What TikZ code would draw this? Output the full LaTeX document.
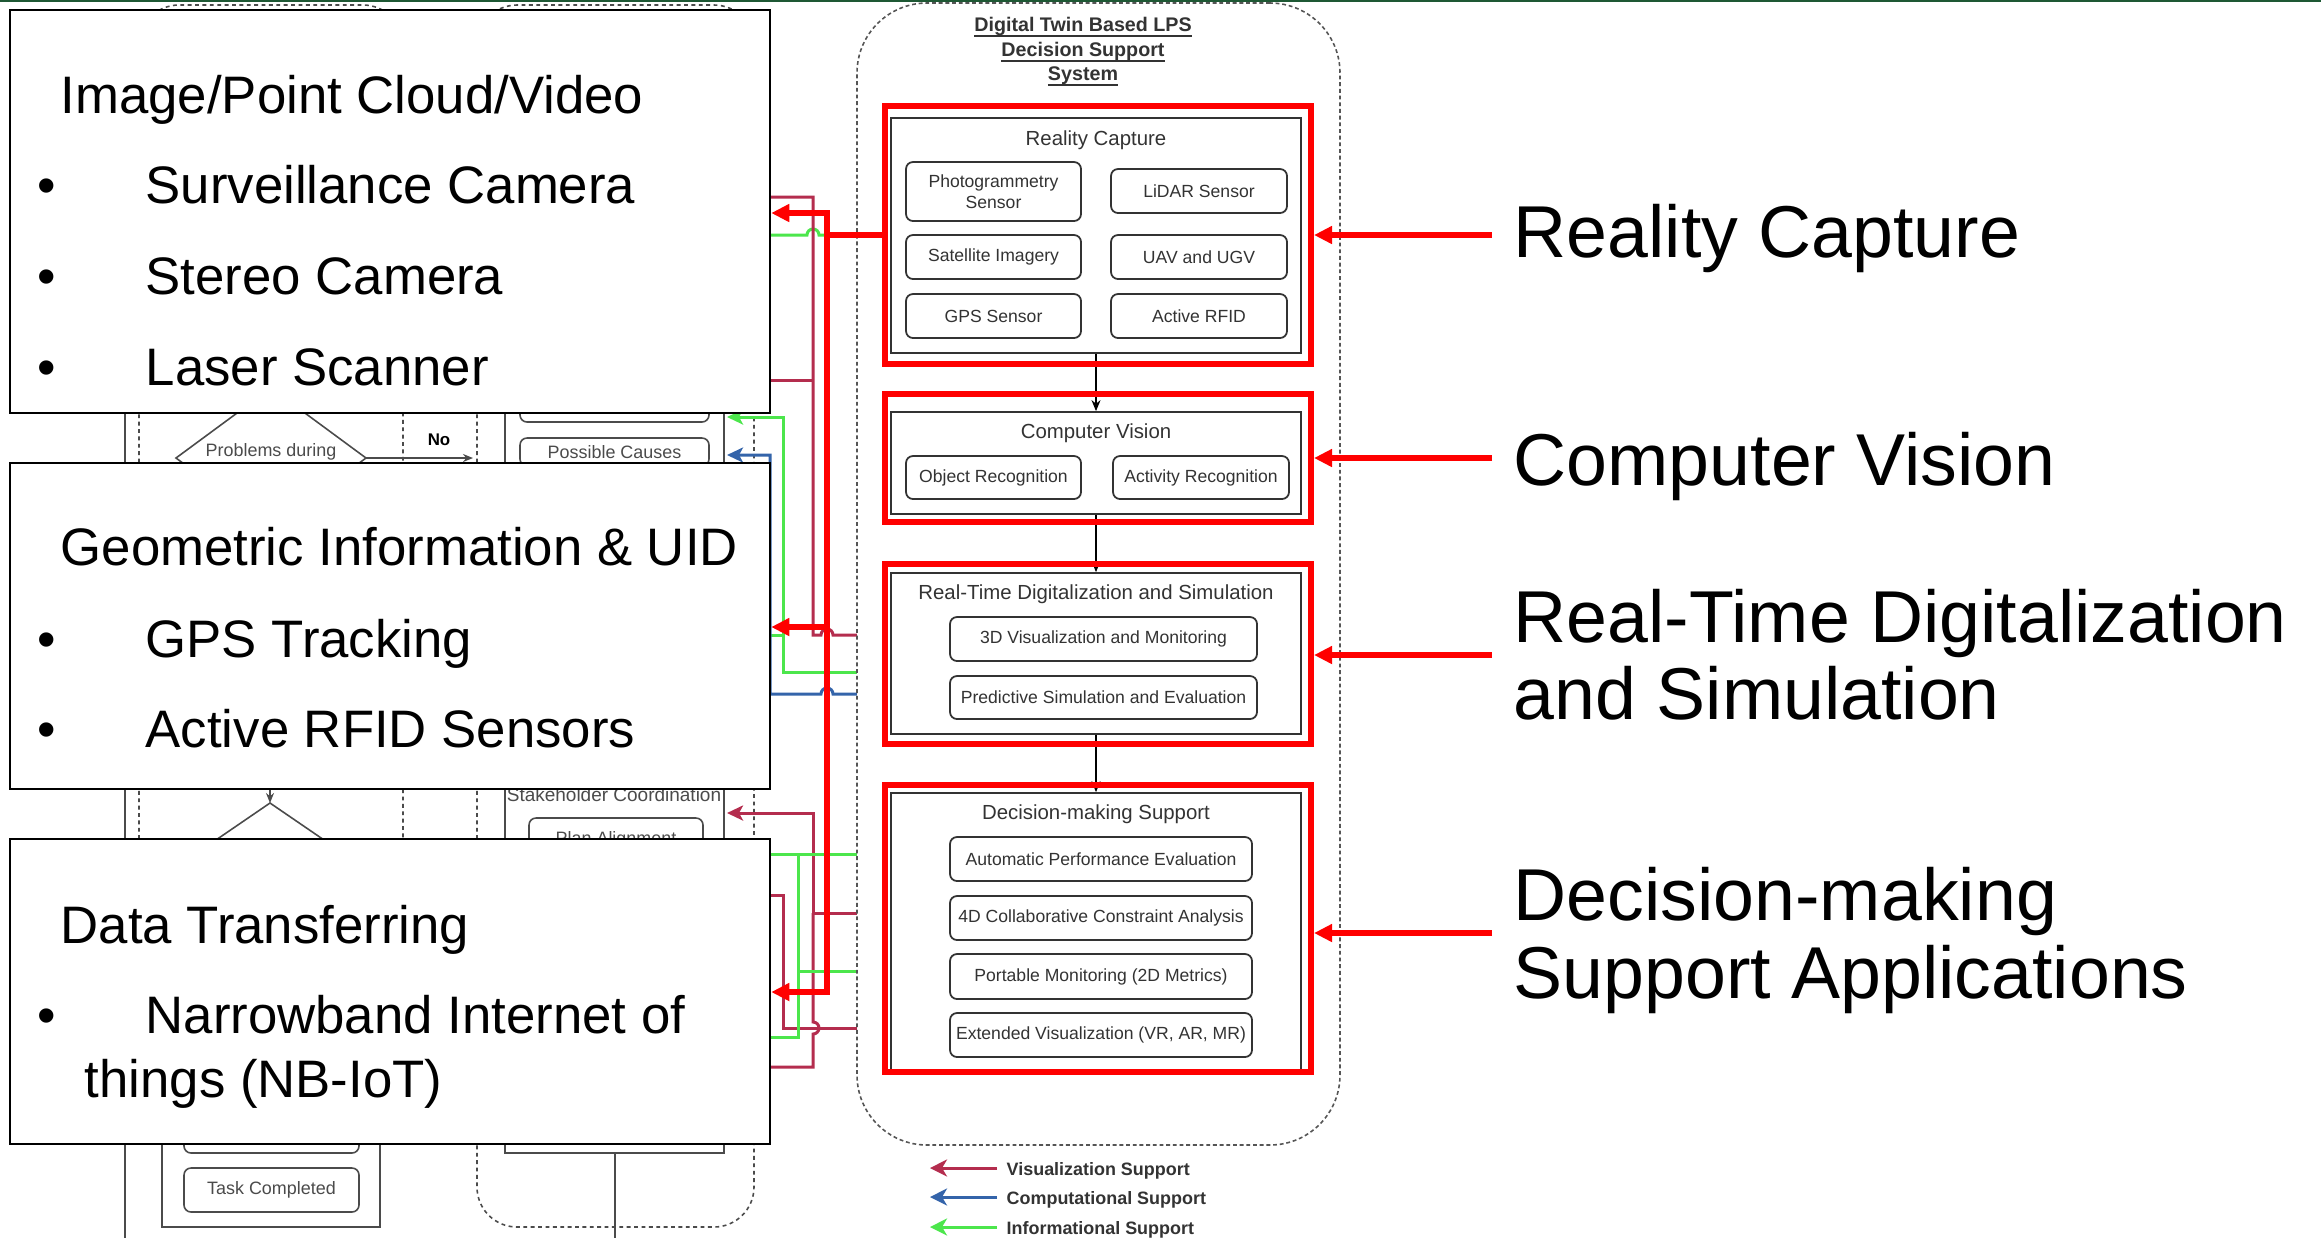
\documentclass[tikz,border=0pt]{standalone}
\usepackage{fontspec}
\setmainfont{Liberation Sans}
\usetikzlibrary{arrows.meta,fit,calc}
\pgfdeclarelayer{flowlayer}
\pgfdeclarelayer{linklayer}
\pgfsetlayers{flowlayer,linklayer,main}

\definecolor{hl}{RGB}{255,0,0}
\definecolor{vis}{RGB}{180,45,78}
\definecolor{comp}{RGB}{52,100,170}
\definecolor{info}{RGB}{76,230,76}
\definecolor{edge}{RGB}{51,51,51}
\definecolor{sysgray}{RGB}{85,85,85}
\definecolor{bggray}{RGB}{75,75,75}
\definecolor{rulegreen}{RGB}{30,88,52}

\newcommand{\titleline}[1]{\underline{\smash{#1}}}
% rounded item box spanning two corners, with its label centred inside
\newcommand{\itemat}[4]{%
  \node[itembox, fit={#2 #3}] (#1) {};
  \node[itemtext] (#1-t) at (#1.center) {#4};}
\newcommand{\bgitemat}[4]{%
  \node[bgbox, fit={#2 #3}] (#1) {};
  \node[bgtext] (#1-t) at (#1.center) {#4};}

\tikzset{
  panel/.style={draw=black, line width=0.7pt, fill=white, inner sep=0pt},
  paneltext/.style={font=\fontsize{15}{18}\selectfont, inner sep=0pt, anchor=base west},
  biglabel/.style={font=\fontsize{20.9}{22}\selectfont, inner sep=0pt, anchor=base west},
  hlbox/.style={draw=hl, line width=0.06cm, inner sep=0pt},
  hlline/.style={draw=hl, line width=0.06cm},
  hlarrow/.style={draw=hl, line width=0.06cm, -{Triangle[length=0.18cm,width=0.17cm]}},
  groupbox/.style={draw=edge, line width=0.5pt, fill=white, inner sep=0pt},
  grouptitle/.style={font=\fontsize{5.8}{7}\selectfont, text=edge, inner sep=0pt},
  itembox/.style={draw=edge, line width=0.5pt, rounded corners=0.07cm, fill=white, inner sep=0pt},
  itemtext/.style={align=center, font=\fontsize{5}{5.9}\selectfont, text=edge, inner sep=0pt},
  sysbox/.style={draw=sysgray, line width=0.45pt, dash pattern=on 1.1pt off 0.8pt,
    rounded corners=0.7cm, fill=white, inner sep=0pt},
  systitle/.style={font=\fontsize{5.6}{7}\selectfont\bfseries, text=edge, inner sep=0pt, anchor=base},
  flowarrow/.style={draw=black, line width=0.35pt, -{Stealth[length=0.11cm,width=0.09cm]}},
  link/.style={line width=0.85pt},
  linktip/.style={-{Stealth[length=0.16cm,width=0.15cm,inset=0.04cm]}},
  visline/.style={link, draw=vis},
  compline/.style={link, draw=comp},
  infoline/.style={link, draw=info},
  legendarrow/.style={line width=0.03cm, -{Stealth[length=0.17cm,width=0.17cm,inset=0.05cm]}},
  legendtext/.style={font=\fontsize{5.1}{6}\selectfont\bfseries, text=edge, inner sep=0pt, anchor=base west},
  bgline/.style={draw=bggray, line width=0.45pt},
  bgdash/.style={bgline, dash pattern=on 1.1pt off 1pt},
  bgbox/.style={bgline, rounded corners=0.07cm, fill=white, inner sep=0pt},
  bgtext/.style={font=\fontsize{5.1}{6.2}\selectfont, text=bggray, inner sep=0pt, align=center},
}

\begin{document}
\begin{tikzpicture}[x=0.01cm, y=-0.01cm]
\useasboundingbox (0,0) rectangle (2321,1238);

% ---------------- swim-lane flowchart in the background ----------------
\begin{pgfonlayer}{flowlayer}
  \fill[white] (0,0) rectangle (2321,1238);
  \draw[bgdash, rounded corners=0.4cm] (139,5) rectangle (403,1135);
  \draw[bgdash, rounded corners=0.4cm] (477,5) rectangle (754,1227);
  \draw[bgline] (125,15) -- (125,1238);
  \draw[bgline] (162,1000) rectangle (380,1227);
  \draw[bgline] (505,30) rectangle (724,1153);
  \draw[bgline] (615,1153) -- (615,1238);
  \bgitemat{bgprev}{(184,1080)}{(359,1153)}{}
  \bgitemat{bgdone}{(184,1168)}{(359,1212)}{Task Completed}
  \bgitemat{bgabove}{(520,370)}{(709,422)}{}
  \bgitemat{bgcause}{(520,438)}{(709,466)}{Possible Causes}
  \node[bgtext, font=\fontsize{5.4}{6.2}\selectfont] (bgstake) at (614,795) {Stakeholder Coordination};
  \bgitemat{bgplan}{(529,818)}{(703,862)}{Plan Alignment}
  % decision diamonds
  \coordinate (d1n) at (271,388); \coordinate (d1e) at (366,458);
  \coordinate (d1s) at (271,528); \coordinate (d1w) at (176,458);
  \draw[bgline, fill=white] (d1n) -- (d1e) -- (d1s) -- (d1w) -- cycle;
  \node[bgtext] (bgprob) at (271,461) {Problems during\\Execution};
  \coordinate (noend) at (473,458);
  \draw[bgline, -{Stealth[length=0.1cm,width=0.08cm]}] (d1e) -- (noend);
  \node[font=\fontsize{4.8}{6}\selectfont\bfseries, text=black, inner sep=0pt] (bgno) at (439,440) {No};
  \coordinate (d2n) at (270,803); \coordinate (d2e) at (365,868);
  \coordinate (d2s) at (270,933); \coordinate (d2w) at (175,868);
  \draw[bgline, fill=white] (d2n) -- (d2e) -- (d2s) -- (d2w) -- cycle;
  \coordinate (d2in) at (270,770);
  \draw[bgline, -{Stealth[length=0.1cm,width=0.08cm]}] (d2in) -- (d2n);
\end{pgfonlayer}

\draw[rulegreen, line width=0.6pt] (0,1) -- (2321,1);

% ---------------- left information panels ----------------
\node[panel, fit={(10,10)(770,413)}] (pimg) {};
\node[paneltext] (timg) at (60,113) {Image/Point Cloud/Video};
\node[paneltext, anchor=base] (bimg1) at (47,203) {\textbullet};
\node[paneltext] (timg1) at (145,203) {Surveillance Camera};
\node[paneltext, anchor=base] (bimg2) at (47,294) {\textbullet};
\node[paneltext] (timg2) at (145,294) {Stereo Camera};
\node[paneltext, anchor=base] (bimg3) at (47,385) {\textbullet};
\node[paneltext] (timg3) at (145,385) {Laser Scanner};

\node[panel, fit={(10,463)(770,789)}] (pgeo) {};
\node[paneltext] (tgeo) at (60,565) {Geometric Information \& UID};
\node[paneltext, anchor=base] (bgeo1) at (47,657) {\textbullet};
\node[paneltext] (tgeo1) at (145,657) {GPS Tracking};
\node[paneltext, anchor=base] (bgeo2) at (47,747) {\textbullet};
\node[paneltext] (tgeo2) at (145,747) {Active RFID Sensors};

\node[panel, fit={(10,839)(770,1144)}] (pdat) {};
\node[paneltext] (tdat) at (60,943) {Data Transferring};
\node[paneltext, anchor=base] (bdat1) at (47,1033) {\textbullet};
\node[paneltext] (tdat1) at (145,1033) {Narrowband Internet of};
\node[paneltext] (tdat2) at (84,1097) {things (NB-IoT)};

% ---------------- support connectors ----------------
\coordinate (gA) at (860,235);
\coordinate (vA) at (857,635); \coordinate (vB) at (813,635);
\coordinate (vC) at (813,197); \coordinate (vD) at (813,380);
\coordinate (hA) at (857,672); \coordinate (hB) at (783,672);
\coordinate (hC) at (783,417); \coordinate (hT) at (727,417);
\coordinate (hD) at (783,635);
\coordinate (bA) at (857,694); \coordinate (bB) at (770,694);
\coordinate (bC) at (770,455); \coordinate (bT) at (727,455);
\coordinate (wA) at (857,913); \coordinate (wB) at (813,913);
\coordinate (wC) at (813,813); \coordinate (wT) at (727,813);
\coordinate (wE) at (813,1067);
\coordinate (xA) at (857,1028); \coordinate (xB) at (783,1028);
\coordinate (xC) at (783,895);
\coordinate (kA) at (857,854); \coordinate (kB) at (798,854);
\coordinate (kC) at (798,1037); \coordinate (kD) at (798,971);
\coordinate (kE) at (857,971);

\begin{pgfonlayer}{linklayer}
  \draw[infoline] (gA) -- (819,235) arc[start angle=0,end angle=180,radius=0.06cm] -- (pimg.east |- gA);
  \draw[visline] (vA) -- (833,635) arc[start angle=0,end angle=180,radius=0.06cm]
     -- (vB) -- (vC) -- (pimg.east |- vC);
  \draw[visline] (vD) -- (pimg.east |- vD);
  \draw[infoline, linktip] (hA) -- (hB) -- (hC) -- (hT);
  \draw[infoline] (hD) -- (pgeo.east |- hD);
  \draw[compline, linktip] (bA) -- (833,694) arc[start angle=0,end angle=180,radius=0.06cm]
     -- (bB) -- (bC) -- (bT);
  \draw[visline, linktip] (wA) -- (wB) -- (wC) -- (wT);
  \draw[visline] (wB) -- (813,1022) arc[start angle=90,end angle=-90,radius=0.06cm]
     -- (wE) -- (pdat.east |- wE);
  \draw[visline] (xA) -- (xB) -- (xC) -- (pdat.east |- xC);
  \draw[infoline] (kA) -- (pdat.east |- kA);
  \draw[infoline] (kB) -- (kC) -- (pdat.east |- kC);
  \draw[infoline] (kD) -- (kE);
\end{pgfonlayer}

% ---------------- decision support system ----------------
\node[sysbox, fit={(857,3)(1340,1145)}] (sys) {};
\node[systitle] (st1) at (1083,31) {\titleline{Digital Twin Based LPS}};
\node[systitle] (st2) at (1083,56) {\titleline{Decision Support}};
\node[systitle] (st3) at (1083,80) {\titleline{System}};

% reality capture
\node[groupbox, fit={(891,118)(1301,353)}] (rcIn) {};
\node[grouptitle] (rcT) at (1096,140) {Reality Capture};
\itemat{photo}{(906,162)}{(1081,221)}{Photogrammetry\\Sensor}
\itemat{lidar}{(1111,169)}{(1287,213)}{LiDAR Sensor}
\itemat{sat}{(906,235)}{(1081,279)}{Satellite Imagery}
\itemat{uav}{(1111,235)}{(1287,279)}{UAV and UGV}
\itemat{gps}{(906,294)}{(1081,338)}{GPS Sensor}
\itemat{rfid}{(1111,294)}{(1287,338)}{Active RFID}

% computer vision
\node[groupbox, fit={(891,412)(1301,514)}] (cvIn) {};
\node[grouptitle] (cvT) at (1096,433) {Computer Vision};
\itemat{objr}{(906,456)}{(1081,499)}{Object Recognition}
\itemat{actr}{(1113,456)}{(1289,499)}{Activity Recognition}

% real-time digitalization
\node[groupbox, fit={(891,573)(1301,734)}] (rtIn) {};
\node[grouptitle] (rtT) at (1096,594) {Real-Time Digitalization and Simulation};
\itemat{vis3d}{(950,617)}{(1257,661)}{3D Visualization and Monitoring}
\itemat{pred}{(950,676)}{(1257,719)}{Predictive Simulation and Evaluation}

% decision-making support
\node[groupbox, fit={(891,793)(1301,1072)}] (dmIn) {};
\node[grouptitle] (dmT) at (1096,814) {Decision-making Support};
\itemat{ape}{(950,837)}{(1252,881)}{Automatic Performance Evaluation}
\itemat{cca}{(950,896)}{(1252,940)}{4D Collaborative Constraint Analysis}
\itemat{pmon}{(950,954)}{(1252,999)}{Portable Monitoring (2D Metrics)}
\itemat{xvis}{(950,1013)}{(1252,1057)}{Extended Visualization (VR, AR, MR)}

\draw[flowarrow] (rcIn.south) -- (cvIn.north);
\draw[flowarrow] (cvIn.south) -- (rtIn.north);
\draw[flowarrow] (rtIn.south) -- (dmIn.north);

% highlight frames
\node[hlbox, fit={(885,106)(1311,364)}] (rcRed) {};
\node[hlbox, fit={(885,394)(1311,522)}] (cvRed) {};
\node[hlbox, fit={(885,564)(1311,744)}] (rtRed) {};
\node[hlbox, fit={(885,785)(1311,1072)}] (dmRed) {};

% highlighted feed to the left panels
\coordinate (rj) at (827,235);
\coordinate (rv1) at (827,213);
\coordinate (rv2) at (827,627);
\coordinate (rv3) at (827,992);
\draw[hlline] (rcRed.west) -- (rj);
\draw[hlline, {Triangle[length=0.18cm,width=0.17cm]}-{Triangle[length=0.18cm,width=0.17cm]}]
  (pimg.east |- rv1) -- (rv1) -- (rv3) -- (pdat.east |- rv3);
\draw[hlarrow] (rv2) -- (pgeo.east |- rv2);

% ---------------- labels on the right ----------------
\node[biglabel] (lrc) at (1513,257) {Reality Capture};
\node[biglabel] (lcv) at (1513,485) {Computer Vision};
\node[biglabel] (lrt1) at (1513,642) {Real-Time Digitalization};
\node[biglabel] (lrt2) at (1513,719) {and Simulation};
\node[biglabel] (ldm1) at (1513,920) {Decision-making};
\node[biglabel] (ldm2) at (1513,998) {Support Applications};

\coordinate (arc) at (1492,235);
\coordinate (acv) at (1492,458);
\coordinate (art) at (1492,655);
\coordinate (adm) at (1492,933);
\draw[hlarrow] (arc) -- (rcRed.east |- arc);
\draw[hlarrow] (acv) -- (cvRed.east |- acv);
\draw[hlarrow] (art) -- (rtRed.east |- art);
\draw[hlarrow] (adm) -- (dmRed.east |- adm);

% ---------------- legend ----------------
\coordinate (lg1s) at (997,1168); \coordinate (lg1e) at (930,1168);
\coordinate (lg2s) at (997,1197); \coordinate (lg2e) at (930,1197);
\coordinate (lg3s) at (997,1227); \coordinate (lg3e) at (930,1227);
\draw[legendarrow, draw=vis, fill=vis] (lg1s) -- (lg1e);
\draw[legendarrow, draw=comp, fill=comp] (lg2s) -- (lg2e);
\draw[legendarrow, draw=info, fill=info] (lg3s) -- (lg3e);
\node[legendtext] (lgv) at (1006,1175) {Visualization Support};
\node[legendtext] (lgc) at (1006,1204) {Computational Support};
\node[legendtext] (lgi) at (1006,1234) {Informational Support};
\end{tikzpicture}
\end{document}
